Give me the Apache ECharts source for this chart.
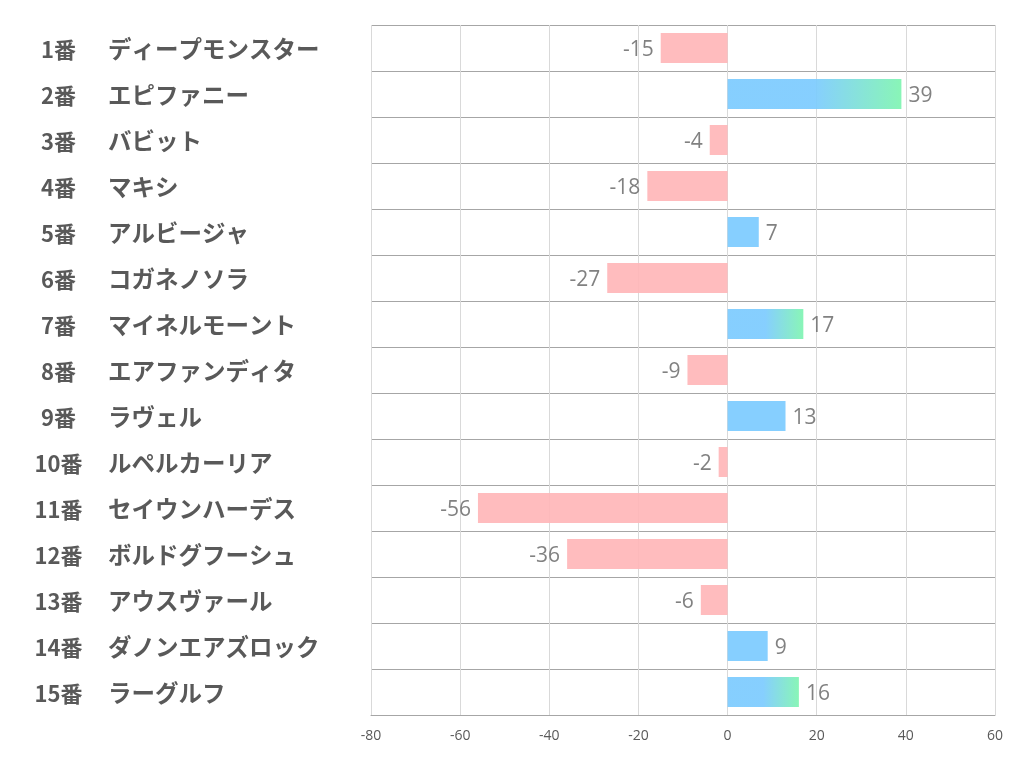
<!DOCTYPE html>
<html><head><meta charset="utf-8">
<script src="https://cdn.jsdelivr.net/npm/echarts@6/dist/echarts.min.js"></script>
<style>html,body{margin:0;padding:0;background:#fff}#c{width:1022px;height:782px}</style>
</head><body><div id="c"></div>
<script>
const numbers = ['1番','2番','3番','4番','5番','6番','7番','8番','9番','10番','11番','12番','13番','14番','15番'];
const horses = ['ディープモンスター','エピファニー','バビット','マキシ','アルビージャ','コガネノソラ','マイネルモーント','エアファンディタ','ラヴェル','ルペルカーリア','セイウンハーデス','ボルドグフーシュ','アウスヴァール','ダノンエアズロック','ラーグルフ'];
const values = [-15, 39, -4, -18, 7, -27, 17, -9, 13, -2, -56, -36, -6, 9, 16];
const xTicks = [-80, -60, -40, -20, 0, 20, 40, 60];

const categories = numbers.map((n, i) => n + '|' + horses[i]);
const blue = '#7ccbff', green = '#7ff5b1', pink = '#ffb6b9';
const data = values.map(v => {
  let color;
  if (v < 0) color = pink;
  else if (v > 15) color = {type:'linear', x:0, y:0, x2:1, y2:0, colorStops:[{offset:0,color:blue},{offset:0.5,color:blue},{offset:1,color:green}]};
  else color = blue;
  return {value: v, itemStyle: {color: color}, label: {position: v < 0 ? 'left' : 'right'}};
});

const chart = echarts.init(document.getElementById('c'));
chart.setOption({
  animation: false,
  grid: {left: 371, right: 27, top: 25, bottom: 67, containLabel: false},
  xAxis: {
    type: 'value', min: xTicks[0], max: xTicks[xTicks.length-1], interval: 20,
    axisLine: {show: true, lineStyle: {color: '#a6a6a6', width: 1}},
    axisTick: {show: false},
    axisLabel: {color: '#595959', fontSize: 14, margin: 14, fontFamily: 'Open Sans'},
    splitLine: {show: true, lineStyle: {color: '#d9d9d9', width: 1}}
  },
  yAxis: {
    type: 'category', data: categories, inverse: true,
    axisLine: {show: false}, axisTick: {show: false},
    splitLine: {show: true, lineStyle: {color: '#a6a6a6', width: 1}},
    axisLabel: {
      align: 'left', margin: 336,
      formatter: function (v) { const p = v.split('|'); return '{n|' + p[0] + '}{h|' + p[1] + '}'; },
      rich: {
        n: {width: 47, align: 'right', fontSize: 22, fontWeight: 'bold', color: '#595959', fontFamily: 'Noto Sans CJK JP', padding: [3,0,0,0]},
        h: {padding: [3,0,0,26], fontSize: 23.5, fontWeight: 'bold', color: '#595959', fontFamily: 'Noto Sans CJK JP'}
      }
    }
  },
  series: [{
    type: 'bar', data: data, barWidth: 30,
    itemStyle: {opacity: 0.92},
    label: {show: true, color: '#767676', fontSize: 21, distance: 7, fontFamily: 'Open Sans', offset: [0, 2]}
  }]
});
</script></body></html>
